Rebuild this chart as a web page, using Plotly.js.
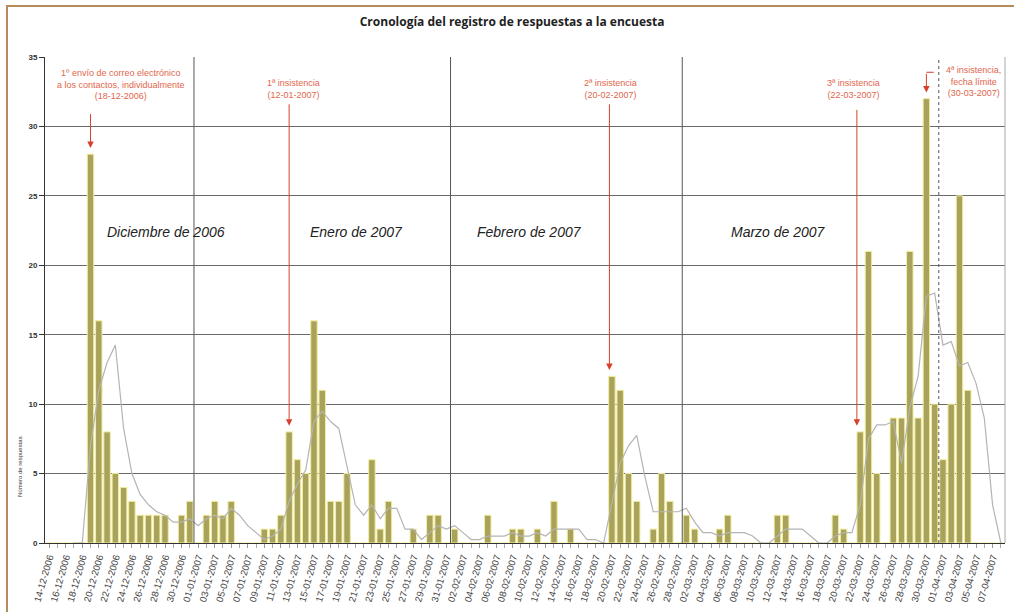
<!DOCTYPE html>
<html>
<head>
<meta charset="utf-8">
<script src="https://cdn.plot.ly/plotly-3.0.1.min.js"></script>
<style>
  html, body { margin: 0; padding: 0; background: #fff; }
  #wrap { position: relative; width: 1014px; height: 612px; overflow: hidden; }
  #chart { position: absolute; left: 0; top: 0; width: 1014px; height: 612px; }
  #frameTop { position: absolute; left: 6px; top: 5px; width: 1008px; height: 0; border-top: 2px solid #b48c5c; pointer-events: none; }
  #frameLeft { position: absolute; left: 6px; top: 5px; width: 0; height: 607px; border-left: 2px solid #b48c5c; pointer-events: none; }
</style>
</head>
<body>
<div id="wrap">
  <div id="chart"></div>
  <div id="frameTop"></div>
  <div id="frameLeft"></div>
</div>
<script>
// ---- Data ----
const days = [
  "14-12-2006","15-12-2006","16-12-2006","17-12-2006","18-12-2006","19-12-2006","20-12-2006","21-12-2006","22-12-2006","23-12-2006",
  "24-12-2006","25-12-2006","26-12-2006","27-12-2006","28-12-2006","29-12-2006","30-12-2006","31-12-2006",
  "01-01-2007","02-01-2007","03-01-2007","04-01-2007","05-01-2007","06-01-2007","07-01-2007","08-01-2007","09-01-2007","10-01-2007",
  "11-01-2007","12-01-2007","13-01-2007","14-01-2007","15-01-2007","16-01-2007","17-01-2007","18-01-2007","19-01-2007","20-01-2007",
  "21-01-2007","22-01-2007","23-01-2007","24-01-2007","25-01-2007","26-01-2007","27-01-2007","28-01-2007","29-01-2007","30-01-2007","31-01-2007",
  "01-02-2007","02-02-2007","03-02-2007","04-02-2007","05-02-2007","06-02-2007","07-02-2007","08-02-2007","09-02-2007","10-02-2007",
  "11-02-2007","12-02-2007","13-02-2007","14-02-2007","15-02-2007","16-02-2007","17-02-2007","18-02-2007","19-02-2007","20-02-2007",
  "21-02-2007","22-02-2007","23-02-2007","24-02-2007","25-02-2007","26-02-2007","27-02-2007","28-02-2007",
  "01-03-2007","02-03-2007","03-03-2007","04-03-2007","05-03-2007","06-03-2007","07-03-2007","08-03-2007","09-03-2007","10-03-2007",
  "11-03-2007","12-03-2007","13-03-2007","14-03-2007","15-03-2007","16-03-2007","17-03-2007","18-03-2007","19-03-2007","20-03-2007",
  "21-03-2007","22-03-2007","23-03-2007","24-03-2007","25-03-2007","26-03-2007","27-03-2007","28-03-2007","29-03-2007","30-03-2007","31-03-2007",
  "01-04-2007","02-04-2007","03-04-2007","04-04-2007","05-04-2007","06-04-2007","07-04-2007","08-04-2007"
];

const counts = [
  0,0,0,0,0,28,16,8,5,4,
  3,2,2,2,2,0,2,3,0,2,
  3,2,3,0,0,0,1,1,2,8,
  6,5,16,11,3,3,5,0,0,6,
  1,3,0,0,1,0,2,2,0,1,
  0,0,0,2,0,0,1,1,0,1,
  0,3,0,1,0,0,0,0,12,11,
  5,3,0,1,5,3,0,2,1,0,
  0,1,2,0,0,0,0,0,2,2,
  0,0,0,0,0,2,1,0,8,21,
  5,0,9,9,21,9,32,10,6,10,
  25,11,0,0,0,0
];

// grey trend line (moving average)
const movingAvg = [
  null,null,null,0,0,7,11,13,14.25,8.25,
  5,3.5,2.75,2.25,2,1.5,1.5,1.75,1.25,1.75,
  2,1.75,2.5,2,1.25,0.75,0.25,0.5,1,3,
  4.25,5.25,8.75,9.5,8.75,8.25,5.5,2.75,2,2.75,
  1.75,2.5,2.5,1,1,0.25,0.75,1.25,1,1.25,
  0.75,0.25,0.25,0.5,0.5,0.5,0.75,0.5,0.5,0.75,
  0.5,1,1,1,1,0.25,0.25,0,3,5.75,
  7,7.75,4.75,2.25,2.25,2.25,2.25,2.5,1.5,0.75,
  0.75,0.5,0.75,0.75,0.75,0.5,0,0,0.5,1,
  1,1,0.5,0,0,0.5,0.75,0.75,2.75,7.5,
  8.5,8.5,8.75,5.75,9.75,12,17.75,18,14.25,14.5,
  12.75,13,11.5,9,2.75,0
];

const monthLabels = ["Diciembre de 2006", "Enero de 2007", "Febrero de 2007", "Marzo de 2007"];
const monthLabelDays = ["28-12-2006", "20-01-2007", "10-02-2007", "12-03-2007"];
const monthStarts = ["01-01-2007", "01-02-2007", "01-03-2007", "01-04-2007"];

const events = [
  {day: "19-12-2006", text: "1º envío de correo electrónico<br>a los contactos, individualmente<br>(18-12-2006)"},
  {day: "12-01-2007", text: "1ª insistencia<br>(12-01-2007)"},
  {day: "20-02-2007", text: "2ª insistencia<br>(20-02-2007)"},
  {day: "22-03-2007", text: "3ª insistencia<br>(22-03-2007)"},
  {day: "30-03-2007", text: "4ª insistencia,<br>fecha límite<br>(30-03-2007)"}
];

const yTicks = [0, 5, 10, 15, 20, 25, 30, 35];

// ---- Build chart ----
const xIdx = days.map((d, i) => i);
const idx = d => days.indexOf(d);
const tickVals = xIdx.filter(i => i % 2 === 0 && i < days.length - 1);
const tickText = tickVals.map(i => days[i]);

const barTrace = {
  type: 'bar',
  x: xIdx,
  y: counts,
  width: 0.78,
  marker: { color: '#a8a25c', line: { color: '#f2ee9e', width: 1 } },
  hoverinfo: 'x+y',
  showlegend: false
};

const lineTrace = {
  type: 'scatter',
  mode: 'lines',
  x: xIdx,
  y: movingAvg,
  line: { color: '#b4b4b4', width: 1.2 },
  hoverinfo: 'skip',
  showlegend: false
};

const shapes = [];
monthStarts.forEach((d, k) => {
  const xv = idx(d) - 0.5;
  shapes.push({
    type: 'line', xref: 'x', yref: 'paper', x0: xv, x1: xv, y0: 0, y1: 1,
    line: { color: '#555', width: 1, dash: k === 3 ? 'dot' : 'solid' }
  });
});
// right edge of plot area
shapes.push({ type: 'line', xref: 'paper', yref: 'paper', x0: 1, x1: 1, y0: 0, y1: 1,
  line: { color: '#aaa', width: 1 } });

const redText = '#e0664c';
const redLine = '#d8402e';
const annFont = { family: 'Liberation Sans, Arial, sans-serif', size: 9, color: redText };

// placement of the event texts & arrows (data units)
const evTextX = [8.7, 29.5, 67.8, 97.2, 111.7];
const evTextY = [33.05, 32.7, 32.7, 32.7, 33.2];
const evTailY = [31.0, 31.7, 31.7, 31.3, 33.9];
const evArrowDx = [0, 0, -0.3, -0.4, 0];

const annotations = [];
events.forEach((ev, k) => {
  const xi = idx(ev.day) + evArrowDx[k];
  annotations.push({
    xref: 'x', yref: 'y', x: evTextX[k], y: evTextY[k], text: ev.text,
    showarrow: false, font: annFont, align: 'center', xanchor: 'center', yanchor: 'middle'
  });
  annotations.push({
    xref: 'x', yref: 'y', x: xi, y: counts[idx(ev.day)] + 0.45,
    axref: 'x', ayref: 'y', ax: xi, ay: evTailY[k],
    text: '', showarrow: true, arrowhead: 2, arrowsize: 1.3, arrowwidth: 1, arrowcolor: redLine
  });
});
// small horizontal hook on the last arrow
const lastX = idx(events[4].day);
shapes.push({ type: 'line', xref: 'x', yref: 'y', x0: lastX, x1: lastX + 0.9, y0: 33.9, y1: 33.9,
  line: { color: redLine, width: 1 } });

monthLabels.forEach((m, k) => {
  annotations.push({
    xref: 'x', yref: 'y', x: idx(monthLabelDays[k]) + 0.1, y: 22.4,
    text: '<i>' + m + '</i>', showarrow: false,
    font: { family: 'Liberation Sans, Arial, sans-serif', size: 14, color: '#222' }
  });
});

annotations.push({
  xref: 'paper', yref: 'paper', x: -0.032, y: 0.09, text: 'Número de respuestas',
  textangle: -90, showarrow: false, font: { family: 'Liberation Sans, Arial, sans-serif', size: 6, color: '#333' }
});

const layout = {
  width: 1014, height: 612,
  margin: { l: 45, r: 9, t: 57, b: 69 },
  paper_bgcolor: '#ffffff', plot_bgcolor: '#ffffff',
  title: {
    text: 'Cronología del registro de respuestas a la encuesta',
    font: { family: 'Open Sans, sans-serif', size: 12, color: '#222', weight: 'bold' },
    x: 0.505, xanchor: 'center', xref: 'container',
    y: 1 - 22 / 612, yanchor: 'middle', yref: 'container'
  },
  bargap: 0.2,
  xaxis: {
    type: 'linear', range: [-0.5, days.length - 0.5],
    tickmode: 'array', tickvals: tickVals, ticktext: tickText,
    tickangle: -74, tickfont: { family: 'Liberation Sans, Arial, sans-serif', size: 9.5, color: '#444' },
    ticks: 'outside', ticklen: 4, tickcolor: '#999',
    minor: { ticks: 'outside', ticklen: 4, tickmode: 'linear', tick0: 0, dtick: 1, tickcolor: '#aaa', showgrid: false },
    showgrid: false, zeroline: false, showline: true, linecolor: '#333', linewidth: 1,
    automargin: false, fixedrange: true
  },
  yaxis: {
    range: [0, 35], tickmode: 'array', tickvals: yTicks,
    tickfont: { family: 'Liberation Sans, Arial, sans-serif', size: 8, color: '#333', weight: 'bold' },
    ticks: 'outside', ticklen: 5, tickcolor: '#333',
    showgrid: true, gridcolor: '#6a6a6a', gridwidth: 1,
    zeroline: false, showline: true, linecolor: '#333', linewidth: 1,
    automargin: false, fixedrange: true
  },
  shapes: shapes,
  annotations: annotations
};

Plotly.newPlot('chart', [barTrace, lineTrace], layout, { displayModeBar: false, staticPlot: true });
</script>
</body>
</html>
